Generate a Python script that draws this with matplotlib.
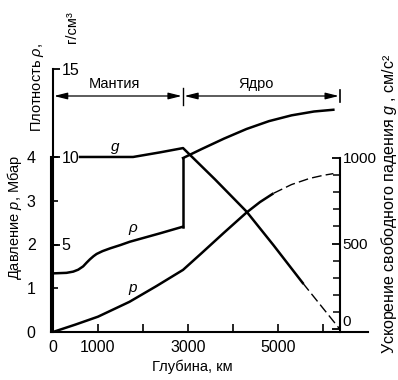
import matplotlib
matplotlib.use("Agg")
import matplotlib.pyplot as plt  # noqa: E402
from matplotlib.ticker import FixedLocator  # noqa: E402

plt.rcParams["font.family"] = ["Liberation Sans Narrow", "Liberation Sans", "DejaVu Sans"]
plt.rcParams["mathtext.fontset"] = "custom"
plt.rcParams["mathtext.it"] = "Liberation Sans:italic"
plt.rcParams["mathtext.rm"] = "Liberation Sans"

# depth, km
EARTH_R = 6371
CMB = 2890

# density rho, g/cm^3 (mantle and core parts, jump at the core boundary)
rho_mantle_depth = [0, 300, 450, 560, 670, 750, 820, 900, 970, 1100, 1270,
                    1500, 1710, 2380, 2890]
rho_mantle = [3.35, 3.38, 3.45, 3.56, 3.75, 3.97, 4.15, 4.33, 4.46, 4.62,
              4.78, 4.97, 5.16, 5.64, 6.02]
rho_core_depth = [2890, 3300, 3800, 4300, 4800, 5300, 5800, 6230]
rho_core = [9.94, 10.45, 11.05, 11.6, 12.05, 12.38, 12.6, 12.7]

# pressure p, Mbar (solid part, then dashed extrapolation)
p_depth = [0, 500, 1000, 1700, 2300, 2890, 3300, 3800, 4300, 4600, 4900]
p_vals = [0, 0.17, 0.35, 0.69, 1.05, 1.42, 1.8, 2.27, 2.73, 2.97, 3.17]
p_dash_depth = [4900, 5300, 5700, 6000, 6230]
p_dash_vals = [3.17, 3.37, 3.51, 3.58, 3.62]

# gravity g, cm/s^2
g_depth = [600, 1780, 2380, 2890, 3600, 4300, 4900, 5550]
g_vals = [1006, 1006, 1033, 1058, 875, 687, 490, 269]
g_dash_depth = [5550, 6371]
g_dash_vals = [269, 0]

x_ticks = [0, 1000, 2000, 3000, 4000, 5000, 6000]
x_ticklabels = ["0", "1000", "", "3000", "", "5000", ""]
p_ticks = [0, 1, 2, 3, 4]
rho_ticks = [5, 10, 15]
g_ticks = [0, 500, 1000]
g_minor = [100, 200, 300, 400, 600, 700, 800, 900]

LW = 1.8
FS_TICK = 11.5
FS_LAB = 10.5


def main():
    fig = plt.figure(figsize=(3.98, 3.80), dpi=100)
    ax = fig.add_axes([51 / 398, 48 / 380, 317 / 398, 264 / 380])
    ax.set_xlim(-44, 7000)
    ax.set_ylim(0, 264 / 43.75)
    ax.patch.set_visible(False)

    for s in ("top", "right"):
        ax.spines[s].set_visible(False)
    ax.spines["left"].set_bounds(0, 4)
    ax.spines["left"].set_linewidth(1.5)
    ax.spines["bottom"].set_linewidth(1.5)
    ax.set_xticks(x_ticks)
    ax.set_xticklabels(x_ticklabels)
    ax.set_yticks(p_ticks)
    ax.tick_params(axis="x", direction="in", length=6, width=1.2,
                   labelsize=FS_TICK, pad=6)
    ax.tick_params(axis="y", direction="in", length=5, width=1.2,
                   labelsize=FS_TICK, pad=11)

    # density axis, on the left but labelled inside
    ax_d = ax.twinx()
    ax_d.set_ylim(0, 2.5 * 264 / 43.75)
    for s in ("top", "left", "bottom"):
        ax_d.spines[s].set_visible(False)
    ax_d.spines["right"].set_position(("data", 0))
    ax_d.spines["right"].set_bounds(0, 15)
    ax_d.spines["right"].set_linewidth(1.5)
    ax_d.set_yticks(rho_ticks)
    ax_d.tick_params(axis="y", direction="out", length=5, width=1.3,
                     labelsize=FS_TICK, pad=1)

    # gravity axis at the Earth's centre
    ax_g = ax.twinx()
    ax_g.set_ylim(-3 / 0.171, 261 / 0.171)
    for s in ("top", "left", "bottom"):
        ax_g.spines[s].set_visible(False)
    ax_g.spines["right"].set_position(("data", EARTH_R))
    ax_g.spines["right"].set_bounds(-3 / 0.171, 1000)
    ax_g.spines["right"].set_linewidth(1.5)
    ax_g.set_yticks(g_ticks)
    ax_g.yaxis.set_minor_locator(FixedLocator(g_minor))
    ax_g.tick_params(axis="y", which="major", direction="in", length=6,
                     width=1.3, labelsize=FS_TICK - 0.5, pad=2)
    ax_g.tick_params(axis="y", which="minor", direction="in", length=5,
                     width=1.1)
    ax_g.get_yticklabels()[0].set_va("bottom")

    # curves
    ax.plot(p_depth, p_vals, color="k", lw=LW, solid_capstyle="butt")
    ax.plot(p_dash_depth, p_dash_vals, color="k", lw=1.0, ls=(0, (7, 3)))
    ax_d.plot(rho_mantle_depth, rho_mantle, color="k", lw=LW)
    ax_d.plot([CMB, CMB], [rho_mantle[-1], rho_core[0]], color="k", lw=LW)
    ax_d.plot(rho_core_depth, rho_core, color="k", lw=LW)
    ax_g.plot(g_depth, g_vals, color="k", lw=LW)
    ax_g.plot(g_dash_depth, g_dash_vals, color="k", lw=1.0, ls=(0, (7, 3)))

    # curve names
    ax.text(1378, 4.23, "g", style="italic", fontsize=11, ha="center",
            va="center", family="Liberation Sans")
    ax.text(1778, 2.38, "ρ", style="italic", fontsize=11, ha="center",
            va="center", family="Liberation Sans")
    ax.text(1778, 1.0, "p", style="italic", fontsize=11, ha="center",
            va="center", family="Liberation Sans")

    # mantle / core brackets
    ya = (332 - 96) / 43.75
    arrow = dict(arrowstyle="<|-|>,head_length=0.8,head_width=0.2",
                 color="k", lw=0.9, shrinkA=0, shrinkB=0, mutation_scale=10)
    ax.annotate("", xy=(22, ya), xytext=(CMB - 30, ya), arrowprops=arrow)
    ax.annotate("", xy=(CMB + 30, ya), xytext=(EARTH_R - 20, ya),
                arrowprops=arrow)
    ax.plot([CMB, CMB], [ya - 0.2, ya + 0.19], color="k", lw=1.0)
    ax.plot([EARTH_R, EARTH_R], [ya - 0.13, ya + 0.14], color="k", lw=1.2)
    yt = (332 - 84) / 43.75
    ax.text(1356, yt, "Мантия", fontsize=FS_LAB, ha="center", va="center")
    ax.text(4511, yt, "Ядро", fontsize=FS_LAB, ha="center", va="center")

    # axis titles
    fig.text(15 / 398, 1 - 217 / 380, "Давление $p$, Мбар", rotation=90,
             ha="center", va="center", fontsize=FS_LAB)
    fig.text(37 / 398, 1 - 88 / 380, "Плотность $ρ$,", rotation=90,
             ha="center", va="center", fontsize=FS_LAB)
    fig.text(72 / 398, 1 - 27 / 380, "г/см³", rotation=90,
             ha="center", va="center", fontsize=FS_LAB)
    fig.text(389 / 398, 1 - 204 / 380,
             "Ускорение свободного падения $g$ , см/с²", rotation=90,
             ha="center", va="center", fontsize=FS_LAB + 1)
    fig.text(192 / 398, 1 - 367 / 380, "Глубина, км", ha="center",
             va="center", fontsize=FS_LAB)

    fig.savefig("out.png", dpi=100)


if __name__ == "__main__":
    main()
